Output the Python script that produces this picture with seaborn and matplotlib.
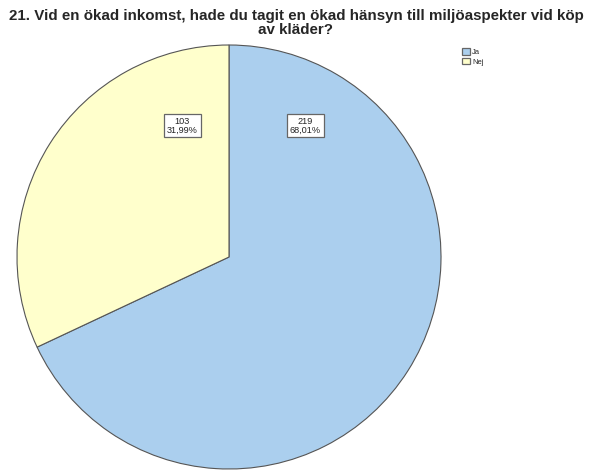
import matplotlib
matplotlib.use("Agg")
import matplotlib.pyplot as plt
import seaborn as sns
from matplotlib.patches import Patch

sns.set_style("white")
plt.rcParams["font.family"] = ["Liberation Sans", "DejaVu Sans"]

# Survey answers
categories = ["Ja", "Nej"]
counts = [219, 103]
percent_labels = ["68,01%", "31,99%"]
colors = ["#abcfee", "#ffffcc"]
title = ("21. Vid en ökad inkomst, hade du tagit en ökad hänsyn till miljöaspekter vid köp\n"
         "av kläder?")

W, H = 592, 470
fig = plt.figure(figsize=(W / 100, H / 100), dpi=100)

# Pie axes (pixel box converted to figure fractions)
cx, cy, r = 229, 257, 212
ax = fig.add_axes([(cx - r) / W, (H - cy - r) / H, 2 * r / W, 2 * r / H])
wedges, _ = ax.pie(counts, colors=colors, startangle=90, counterclock=False,
                   wedgeprops=dict(edgecolor="#555555", linewidth=0.8))
ax.set_xlim(-1, 1)
ax.set_ylim(-1, 1)
ax.set_aspect("equal")
ax.axis("off")

# Value boxes near the top of each slice
label_pos = {"Ja": (0.36, 0.62), "Nej": (-0.22, 0.62)}
for cat, n, pct in zip(categories, counts, percent_labels):
    x, y = label_pos[cat]
    ax.text(x, y, f"{n}\n{pct}", ha="center", va="center", fontsize=6.6,
            linespacing=1.0,
            bbox=dict(boxstyle="square,pad=0.3", facecolor="white",
                      edgecolor="#666666", linewidth=0.9))

fig.suptitle(title, x=0.5, y=0.98, fontsize=10.9, fontweight="bold",
             linespacing=1.0, va="top")

handles = [Patch(facecolor=c, edgecolor="#666666", linewidth=0.9) for c in colors]
fig.legend(handles, categories, loc="upper left",
           bbox_to_anchor=(457 / W, 1 - 43 / H), frameon=False, fontsize=5.5,
           handlelength=1.0, handleheight=1.0, handletextpad=0.3,
           labelspacing=0.15, borderpad=0.2)

fig.savefig("out.png", dpi=100)
